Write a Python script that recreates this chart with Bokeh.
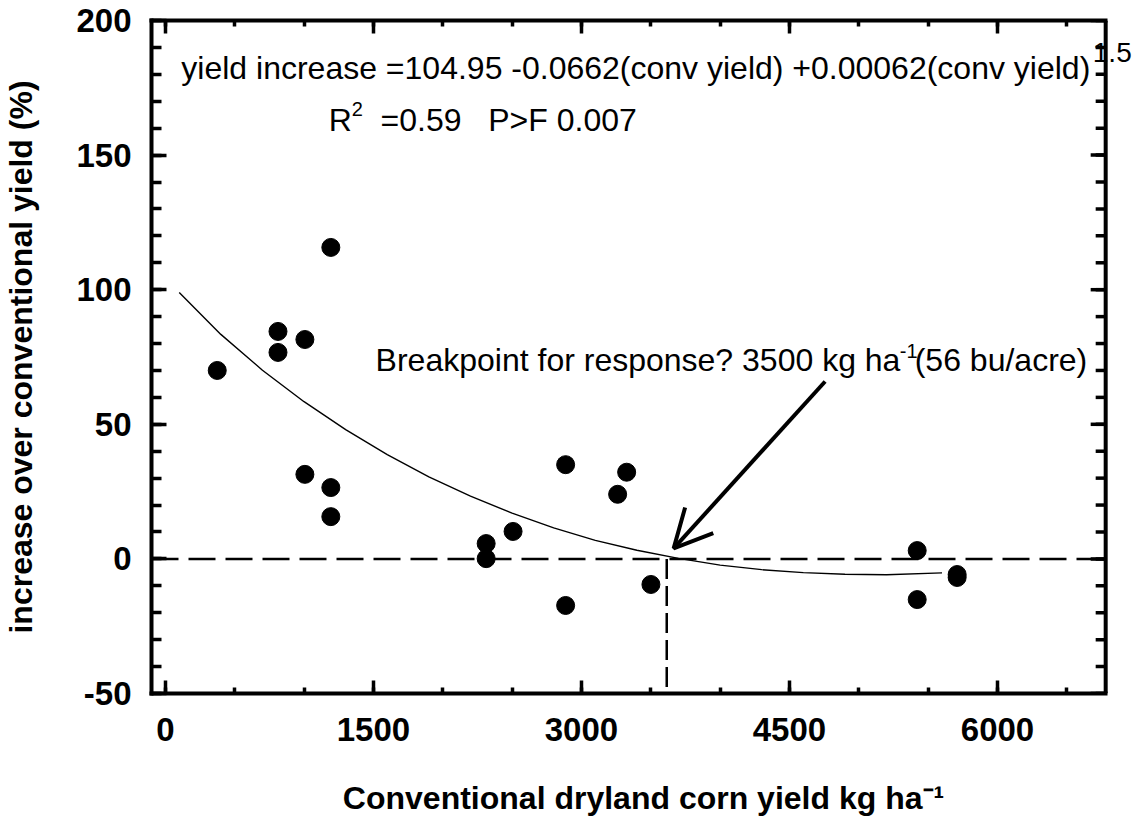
import math
from bokeh.plotting import figure
from bokeh.models import (LinearAxis, FixedTicker, Span, Label, Arrow, OpenHead, Range1d,
                          CustomJSTickFormatter, Grid)
from bokeh.embed import file_html
from bokeh.resources import INLINE

# ---- data ----
conv_yield = [374, 812, 812, 1006, 1193, 1006, 1193, 1193, 2313, 2313, 2507,
              2886, 3326, 3261, 3501, 2886, 5421, 5421, 5709, 5709]
yield_increase = [70.0, 84.5, 76.7, 81.5, 115.7, 31.4, 26.5, 15.7, 5.7, 0.1, 10.2,
                  35.0, 32.2, 24.0, -9.5, -17.3, 3.1, -15.1, -5.8, -6.9]

# fitted curve
curve_x = [100, 400, 700, 1000, 1300, 1600, 1900, 2200, 2500, 2800, 3100, 3400,
           3700, 4000, 4300, 4600, 4900, 5200, 5600]
curve_y = [99.0, 83.4, 70.1, 58.4, 48.0, 38.7, 30.5, 23.3, 17.0, 11.5, 6.9, 3.2,
           0.2, -2.3, -4.0, -5.1, -5.7, -5.9, -5.2]

breakpoint_x = [3615]
x_major = [0, 1500, 3000, 4500, 6000]
x_minor = [0, 500, 1000, 1500, 2000, 2500, 3000, 3500, 4000, 4500, 5000, 5500, 6000, 6500]
y_major = [-50, 0, 50, 100, 150, 200]
y_minor = list(range(-50, 201, 10))

x_axis_lo, x_axis_hi = -100, 6780      # extent of the drawn x axis (box)
x_view_hi = 6995                        # room to the right of the box for the exponent
arrow_start = (4757, 65.9)
arrow_end = (3665, 3.9)

FONT = "Liberation Sans"
PX_PER_Y = 2.692   # screen pixels per y unit (for small text nudges)

p = figure(width=1135, height=830, x_range=Range1d(x_axis_lo, x_view_hi),
           y_range=Range1d(-50, 200),
           output_backend="svg", toolbar_location=None,
           x_axis_location=None, y_axis_location=None,
           min_border_left=147, min_border_right=0, min_border_top=20, min_border_bottom=137)
p.outline_line_color = None
p.background_fill_color = "white"
p.border_fill_color = "white"
p.grid.visible = False
p.center = [r for r in p.center if not isinstance(r, Grid)]

blank = CustomJSTickFormatter(code="return ''")


def style_axis(ax, ticks, minor, tin, mtin, show_labels):
    ax.ticker = FixedTicker(ticks=ticks, minor_ticks=minor)
    ax.axis_line_width = 4
    ax.axis_line_color = "black"
    ax.axis_line_cap = "square"
    ax.major_tick_in = tin
    ax.major_tick_out = 0
    ax.minor_tick_in = mtin
    ax.minor_tick_out = 0
    ax.major_tick_line_width = 3.5
    ax.minor_tick_line_width = 3.5
    ax.major_tick_line_color = "black"
    ax.minor_tick_line_color = "black"
    if show_labels:
        ax.major_label_text_font = FONT
        ax.major_label_text_font_style = "bold"
        ax.major_label_text_font_size = "33px"
        ax.major_label_text_color = "black"
    else:
        ax.formatter = blank
        ax.major_label_text_font_size = "8px"
        ax.major_label_standoff = 0


bottom = LinearAxis(bounds=(x_axis_lo, x_axis_hi))
style_axis(bottom, x_major, x_minor, 13, 6, True)
bottom.major_label_standoff = 24
bottom.axis_label = "Conventional dryland corn yield kg ha\u207b\u00b9"
bottom.axis_label_text_font = FONT
bottom.axis_label_text_font_style = "bold"
bottom.axis_label_text_font_size = "32px"
bottom.axis_label_text_color = "black"
bottom.axis_label_standoff = 36
p.add_layout(bottom, "below")

top = LinearAxis(bounds=(x_axis_lo, x_axis_hi))
style_axis(top, x_major, x_minor, 13, 6, False)
p.add_layout(top, "above")

left = LinearAxis()
style_axis(left, y_major, y_minor, 15, 10, True)
left.major_label_overrides = {-50: "-50"}
left.major_label_standoff = 20
left.axis_label = "increase over conventional yield (%)"
left.axis_label_text_font = FONT
left.axis_label_text_font_style = "bold"
left.axis_label_text_font_size = "32px"
left.axis_label_text_color = "black"
left.axis_label_standoff = 34
p.add_layout(left, "left")

# right edge of the box with inward ticks
p.add_layout(Span(location=x_axis_hi, dimension="height", line_color="black", line_width=4))
p.ray(x=[x_axis_hi] * len(y_minor), y=y_minor, length=10, length_units="screen",
      angle=math.pi, line_color="black", line_width=3.5)
p.ray(x=[x_axis_hi] * len(y_major), y=y_major, length=15, length_units="screen",
      angle=math.pi, line_color="black", line_width=3.5)

# reference lines
p.segment(x0=[x_axis_lo], y0=[0], x1=[x_axis_hi], y1=[0],
          line_color="black", line_width=2.5, line_dash="27 10")
p.segment(x0=breakpoint_x, y0=[0], x1=breakpoint_x, y1=[-50],
          line_color="black", line_width=2.5, line_dash="20 7")

# fitted curve and points
p.line(curve_x, curve_y, line_color="black", line_width=1.4)
p.scatter(conv_yield, yield_increase, size=18, color="black")

# arrow
p.add_layout(Arrow(end=OpenHead(size=38, line_width=4, line_color="black"),
                   x_start=arrow_start[0], y_start=arrow_start[1],
                   x_end=arrow_end[0], y_end=arrow_end[1],
                   line_width=4, line_color="black"))


def lab(x, y, text, size, bold=False, align="left"):
    # y is the text baseline; nudge for the renderer's baseline placement
    y_adj = y + 0.34 * size / PX_PER_Y
    p.add_layout(Label(x=x, y=y_adj, text=text, text_font=FONT, text_font_size=f"{size}px",
                       text_font_style="bold" if bold else "normal",
                       text_align=align, text_baseline="alphabetic", text_color="black"))


lab(115, 178.3, "yield increase =104.95 -0.0662(conv yield) +0.00062(conv yield)", 32)
lab(6687, 184.4, "1.5", 28)
lab(1178, 159.1, "R", 32)
lab(1344, 164.7, "2", 20)
lab(1552, 159.1, "=0.59", 32)
lab(2328, 159.1, "P>F 0.007", 32)

lab(1516, 70.0, "Breakpoint for response? 3500 kg ha", 32)
lab(5296, 74.8, "-1", 20)
lab(6647, 70.0, "(56 bu/acre)", 32, align="right")

open("out.html", "w").write(file_html(p, INLINE))
